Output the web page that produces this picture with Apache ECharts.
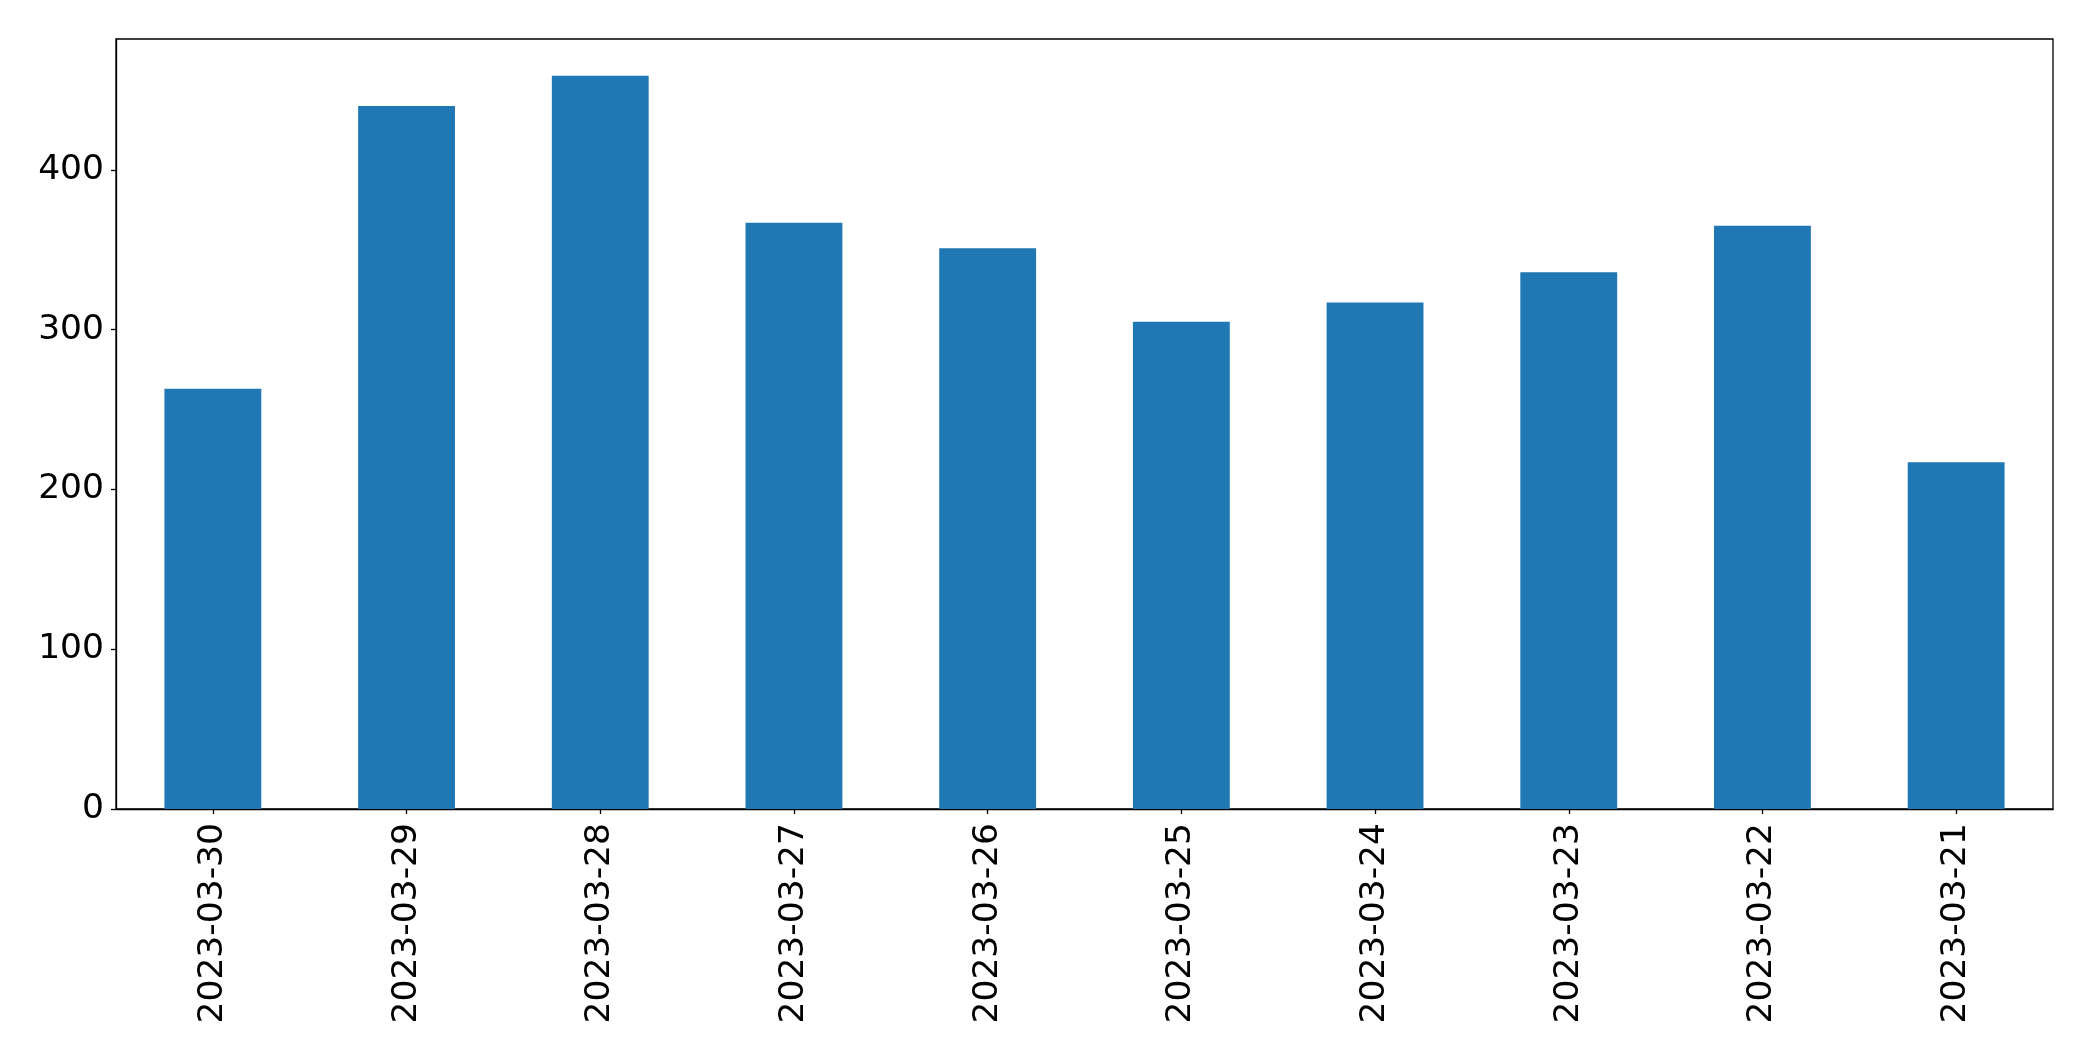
<!DOCTYPE html>
<html>
<head>
<meta charset="utf-8">
<script src="https://cdn.jsdelivr.net/npm/echarts@6/dist/echarts.min.js"></script>
<style>
html,body{margin:0;padding:0;background:#fff;}
#chart{width:2093px;height:1061px;}
</style>
</head>
<body>
<div id="chart"></div>
<script>
const categories = ["2023-03-30","2023-03-29","2023-03-28","2023-03-27","2023-03-26","2023-03-25","2023-03-24","2023-03-23","2023-03-22","2023-03-21"];
const values = [263, 440, 459, 367, 351, 305, 317, 336, 365, 217];
const yTicks = [0, 100, 200, 300, 400];

const chart = echarts.init(document.getElementById('chart'), null, {renderer: 'canvas'});
const font = 'DejaVu Sans';
chart.setOption({
  animation: false,
  backgroundColor: '#ffffff',
  grid: {left: 116, right: 40, top: 39, bottom: 252, show: true, borderColor: '#000', borderWidth: 1.3, backgroundColor: 'transparent'},
  xAxis: {
    type: 'category',
    data: categories,
    axisLine: {show: true, lineStyle: {color: '#000', width: 1.3}},
    axisTick: {show: true, alignWithLabel: true, length: 5, lineStyle: {color: '#000', width: 1.3}},
    axisLabel: {rotate: 90, color: '#000', fontFamily: font, fontSize: 34.5, margin: 14, interval: 0},
    splitLine: {show: false}
  },
  yAxis: {
    type: 'value',
    min: yTicks[0],
    max: Math.max(...values) * 1.05,
    interval: yTicks[1] - yTicks[0],
    axisLine: {show: true, lineStyle: {color: '#000', width: 1.3}},
    axisTick: {show: true, length: 5, lineStyle: {color: '#000', width: 1.3}},
    axisLabel: {color: '#000', fontFamily: font, fontSize: 34.5, margin: 12, showMaxLabel: false,
      formatter: v => yTicks.includes(v) ? String(v) : ''},
    splitLine: {show: false}
  },
  series: [{
    type: 'bar',
    data: values,
    barWidth: '50%',
    itemStyle: {color: '#1f77b4'}
  }]
});
</script>
</body>
</html>
